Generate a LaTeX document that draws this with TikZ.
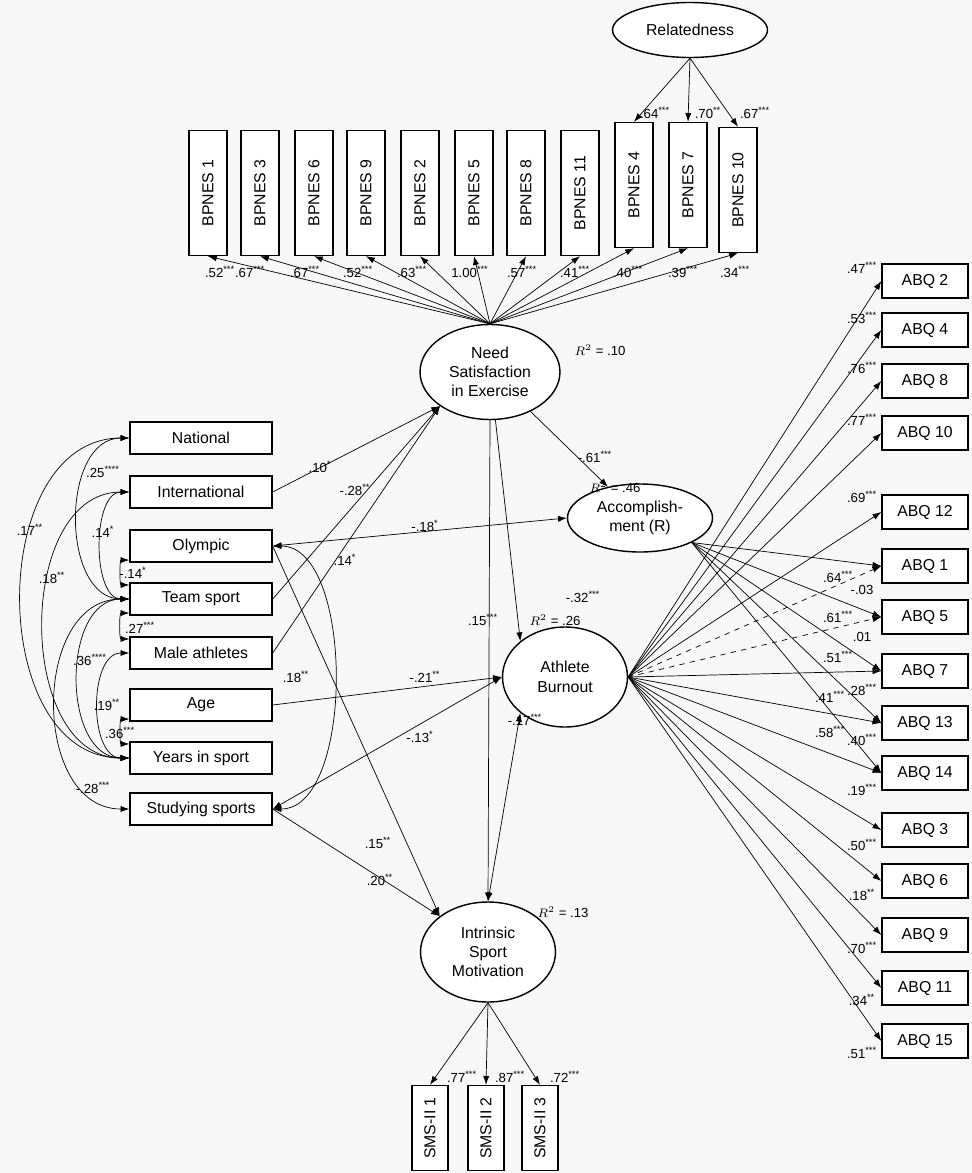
\documentclass[tikz,border=0pt]{standalone}
\usepackage{fontspec}
\setmainfont{Liberation Sans}
\usetikzlibrary{shapes.geometric,arrows.meta}
\newcommand\sig[1]{\textsuperscript{#1}}
\tikzset{box/.style={draw,thick,fill=white,inner sep=1pt,font=\fontsize{9}{10}\selectfont},
 lat/.style={draw,thick,ellipse,fill=white,inner sep=0pt,align=center,font=\fontsize{9}{11}\selectfont},
 lab/.style={inner sep=0pt,font=\fontsize{7.5}{8}\selectfont},
 path/.style={-{Latex[length=5pt,width=3.5pt]},thin},
 cov/.style={{Latex[length=5pt,width=3.5pt]}-{Latex[length=5pt,width=3.5pt]},thin}}

\begin{document}
\begin{tikzpicture}[x=0.02cm,y=-0.02cm]
  \useasboundingbox[fill=black!3] (0,0) rectangle (972,1173);
  % latent variables
  \node[lat,minimum width=3.1cm,minimum height=1.1cm] (rel) at (690,30) {Relatedness};
  \node[lat,minimum width=2.8cm,minimum height=1.9cm] (ns) at (490,372) {Need\\Satisfaction\\in Exercise};
  \node[lat,minimum width=2.9cm,minimum height=1.36cm] (acc) at (640,518) {Accomplish-\\ment (R)};
  \node[lat,minimum width=2.5cm,minimum height=2.0cm] (bo) at (565,677) {Athlete\\Burnout};
  \node[lat,minimum width=2.7cm,minimum height=2.0cm] (ism) at (488,952) {Intrinsic\\Sport\\Motivation};
  \node[lab] at (600,350) {$R^2$ = .10};
  \node[lab] at (615,487) {$R^2$ = .46};
  \node[lab] at (555,620) {$R^2$ = .26};
  \node[lab] at (563,912) {$R^2$ = .13};
  % BPNES items
  \foreach \n/\x/\y/\v/\lx in {1/208/193/.52/220,3/260/193/.67/250,6/314/193/.67/305,9/366/193/.52/358,
      2/420/193/.63/412,5/474/193/1.00/470,8/526/193/.57/522,11/580/193/.41/575,
      4/634/185/.40/628,7/688/185/.39/683,10/738/190/.34/735} {
    \node[box,minimum width=0.76cm,minimum height=2.5cm] (b\n) at (\x,\y) {\rotatebox{90}{BPNES \n}};
    \draw[path] (ns.north) -- (b\n.south);
    \node[lab] at (\lx,272) {\v\sig{***}};
  }
  \foreach \n/\v/\lx in {4/.64\sig{***}/655,7/.70\sig{**}/708,10/.67\sig{***}/755} {
    \draw[path] (rel.south) -- (b\n.north);
    \node[lab] at (\lx,113) {\v};
  }
  % observed predictors
  \foreach \n/\y/\t in {nat/438/National,int/492/International,oly/546/Olympic,team/599/Team sport,
      male/653/Male athletes,age/705/Age,yrs/758/Years in sport,stud/809/Studying sports}
    \node[box,minimum width=2.84cm,minimum height=0.64cm] (\n) at (201,\y) {\t};
  % covariances
  \draw[cov] (nat.west) to[out=180,in=180,looseness=1.15] (yrs.west);
  \draw[cov] (nat.west) to[out=180,in=180,looseness=1.1] (team.west);
  \draw[cov] (int.west) to[out=180,in=180,looseness=1.1] (yrs.west);
  \draw[cov] (int.west) to[out=180,in=180,looseness=0.9] (team.west);
  \draw[cov] ([yshift=-8]oly.west) to[out=180,in=180,looseness=1] ([yshift=8]team.west);
  \draw[cov] ([yshift=-8]team.west) to[out=180,in=180,looseness=1] ([yshift=8]male.west);
  \draw[cov] (team.west) to[out=180,in=180,looseness=1.1] (yrs.west);
  \draw[cov] (team.west) to[out=180,in=180,looseness=1.2] (stud.west);
  \draw[cov] (male.west) to[out=180,in=180,looseness=1] (yrs.west);
  \draw[cov] ([yshift=-8]age.west) to[out=180,in=180,looseness=1] ([yshift=8]yrs.west);
  \draw[cov] (oly.east) to[out=0,in=0,looseness=0.8] (stud.east);
  \foreach \x/\y/\v in {103/472/.25\sig{****},30/530/.17\sig{**},103/532/.14\sig{*},52/578/.18\sig{**},
      133/573/-.14\sig{*},140/628/.27\sig{***},90/660/.36\sig{****},107/705/.19\sig{**},
      120/733/.36\sig{***},93/788/-.28\sig{***},296/677/.18\sig{**}}
    \node[lab] at (\x,\y) {\v};
  % structural paths
  \draw[path] (int.east) -- (ns.south west);
  \draw[path] (team.east) -- (ns.south west);
  \draw[path] (male.east) -- (ns.south west);
  \draw[path] (ns) -- (acc);
  \draw[path] (ns) -- (bo.north west);
  \draw[path] (ns.south) -- (ism.north);
  \draw[cov] (oly.east) -- (acc.west);
  \draw[path] (oly.east) -- (ism.north west);
  \draw[path] (age.east) -- (bo.west);
  \draw[cov] (stud.east) -- (bo.west);
  \draw[path] (stud.east) -- (ism.north west);
  \draw[cov] (ism.north) -- (bo.south west);
  \foreach \x/\y/\v in {320/467/.10\sig{*},355/490/-.28\sig{**},345/560/.14\sig{*},425/526/-.18\sig{*},
      378/843/.15\sig{**},425/677/-.21\sig{**},420/737/-.13\sig{*},380/880/.20\sig{**},
      483/620/.15\sig{***},595/457/-.61\sig{***},583/597/-.32\sig{***},525/720/-.17\sig{***}}
    \node[lab] at (\x,\y) {\v};
  % ABQ items
  \foreach \n/\y/\v/\ly in {2/281/.47\sig{***}/268,4/330/.53\sig{***}/318,8/381/.76\sig{***}/368,
      10/433/.77\sig{***}/420,12/512/.69\sig{***}/497,1/566/-.03/590,5/617/.01/637,
      7/671/.28\sig{***}/690,13/723/.40\sig{***}/740,14/773/.19\sig{***}/790,3/830/.50\sig{***}/845,
      6/881/.18\sig{**}/895,9/935/.70\sig{***}/948,11/988/.34\sig{**}/1000,15/1041/.51\sig{***}/1053} {
    \node[box,minimum width=1.72cm,minimum height=0.68cm] (q\n) at (925,\y) {ABQ \n};
    \node[lab] at (862,\ly) {\v};
  }
  \foreach \n in {2,4,8,10,12,7,13,14,3,6,9,11,15} \draw[path] (bo.east) -- (q\n.west);
  \foreach \n in {1,5} \draw[path,dashed] (bo.east) -- (q\n.west);
  \foreach \n/\v/\x/\y in {1/.64/838/577,5/.61/838/617,7/.51/838/657,13/.41/830/697,14/.58/830/732} {
    \draw[path] (acc.south east) -- (q\n.west);
    \node[lab] at (\x,\y) {\v\sig{***}};
  }
  % SMS-II items
  \foreach \n/\x/\v/\lx in {1/430/.77/462,2/486/.87/510,3/540/.72/565} {
    \node[box,minimum width=0.72cm,minimum height=1.7cm] (s\n) at (\x,1128) {\rotatebox{90}{SMS-II \n}};
    \draw[path] (ism.south) -- (s\n.north);
    \node[lab] at (\lx,1077) {\v\sig{***}};
  }
\end{tikzpicture}
\end{document}
